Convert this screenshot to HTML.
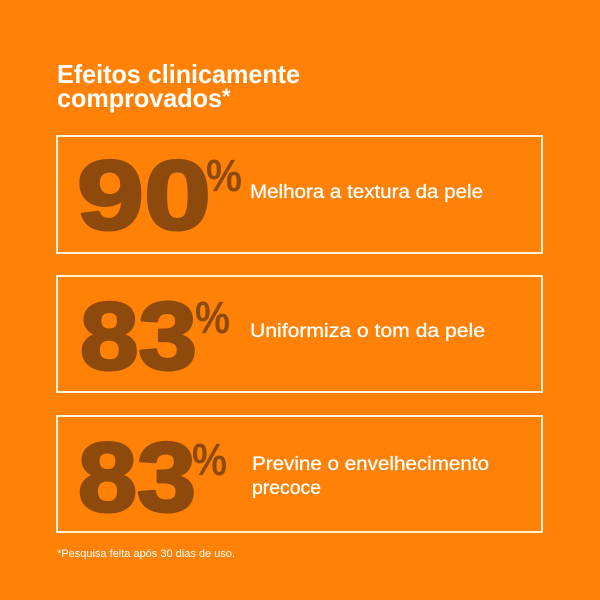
<!DOCTYPE html>
<html>
<head>
<meta charset="utf-8">
<style>
  html, body { margin:0; padding:0; background:#FF8207; }
  svg { display:block; }
  text { font-family: "Liberation Sans", sans-serif; }
</style>
</head>
<body>
<svg width="600" height="600" viewBox="0 0 600 600" xmlns="http://www.w3.org/2000/svg">
  <rect x="0" y="0" width="600" height="600" fill="#FF8207"/>

  <!-- Title -->
  <text x="57" y="83" font-size="26" font-weight="bold" fill="#FFFFFF" textLength="243" lengthAdjust="spacingAndGlyphs">Efeitos clinicamente</text>
  <text x="57" y="107" font-size="26" font-weight="bold" fill="#FFFFFF" textLength="165" lengthAdjust="spacingAndGlyphs">comprovados</text>
  <text x="222" y="104" font-size="22" font-weight="bold" fill="#FFFFFF">*</text>

  <!-- Boxes -->
  <rect x="57" y="136" width="485" height="117" fill="none" stroke="#FFF1D2" stroke-width="2"/>
  <rect x="57" y="276" width="485" height="116" fill="none" stroke="#FFF1D2" stroke-width="2"/>
  <rect x="57" y="416" width="485" height="116" fill="none" stroke="#FFF1D2" stroke-width="2"/>

  <!-- Box 1 -->
  <text x="77" y="229" font-size="98" font-weight="bold" fill="#8E4A0C" stroke="#8E4A0C" stroke-width="3" stroke-linejoin="round" textLength="134" lengthAdjust="spacingAndGlyphs">90</text>
  <text x="206" y="191" font-size="45" font-weight="bold" fill="#8E4A0C" textLength="36" lengthAdjust="spacingAndGlyphs">%</text>
  <text x="250" y="198" font-size="19.5" fill="#FFFFFF" stroke="#FFFFFF" stroke-width="0.3" textLength="233" lengthAdjust="spacingAndGlyphs">Melhora a textura da pele</text>

  <!-- Box 2 -->
  <text x="80" y="369" font-size="96" font-weight="bold" fill="#8E4A0C" stroke="#8E4A0C" stroke-width="3" stroke-linejoin="round" textLength="117" lengthAdjust="spacingAndGlyphs">83</text>
  <text x="195" y="333" font-size="45" font-weight="bold" fill="#8E4A0C" textLength="35" lengthAdjust="spacingAndGlyphs">%</text>
  <text x="250" y="337" font-size="19.5" fill="#FFFFFF" stroke="#FFFFFF" stroke-width="0.3" textLength="235" lengthAdjust="spacingAndGlyphs">Uniformiza o tom da pele</text>

  <!-- Box 3 -->
  <text x="78" y="511" font-size="98" font-weight="bold" fill="#8E4A0C" stroke="#8E4A0C" stroke-width="3" stroke-linejoin="round" textLength="118" lengthAdjust="spacingAndGlyphs">83</text>
  <text x="192" y="475" font-size="45" font-weight="bold" fill="#8E4A0C" textLength="35" lengthAdjust="spacingAndGlyphs">%</text>
  <text x="252" y="470" font-size="19.5" fill="#FFFFFF" stroke="#FFFFFF" stroke-width="0.3" textLength="237" lengthAdjust="spacingAndGlyphs">Previne o envelhecimento</text>
  <text x="252" y="494" font-size="19.5" fill="#FFFFFF" stroke="#FFFFFF" stroke-width="0.3" textLength="69" lengthAdjust="spacingAndGlyphs">precoce</text>

  <!-- Footnote -->
  <text x="57" y="557" font-size="11" fill="#FFFFFF" textLength="178" lengthAdjust="spacingAndGlyphs">*Pesquisa feita após 30 dias de uso.</text>
</svg>
</body>
</html>
